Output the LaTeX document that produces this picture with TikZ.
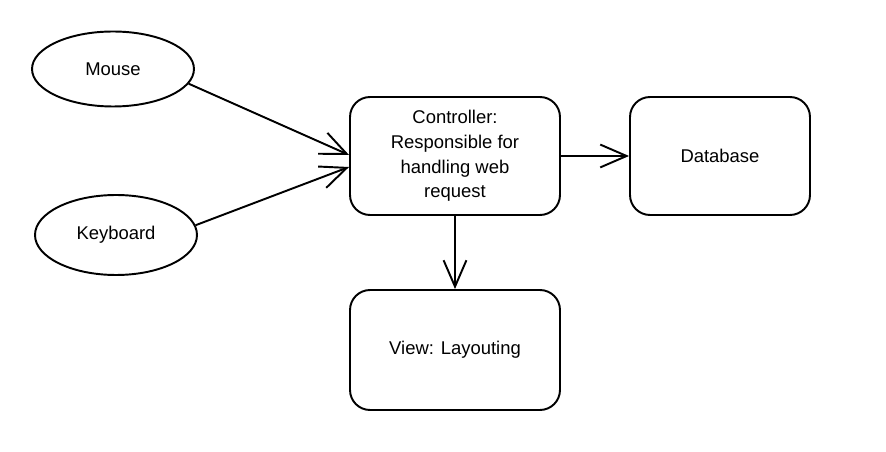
\documentclass[tikz,border=0pt]{standalone}
\usepackage{fontspec}
\setmainfont{Liberation Sans}
\usepackage{tikz}
\usetikzlibrary{arrows.meta, positioning, calc, shapes.geometric}
\tikzset{
  box/.style={rectangle, draw, rounded corners=0.4cm, line width=1.1pt,
              minimum width=4.2cm, minimum height=2.36cm,
              align=center, font=\fontsize{10.5}{14}\selectfont},
  input/.style={ellipse, draw, line width=1.1pt, inner sep=0pt,
                minimum width=3.24cm, minimum height=1.5cm,
                font=\fontsize{10.5}{14}\selectfont},
  arr/.style={-{Straight Barb[length=15pt, width=13pt, line width=1.1pt]}, line width=1.1pt},
}

\begin{document}
\begin{tikzpicture}[x=0.02cm, y=-0.02cm]
  \useasboundingbox (0,0) rectangle (886,452);

  \node[input] (mouse) at (113,69) {Mouse};
  \node[input, minimum height=1.6cm] (keyboard) at (116,235) {Keyboard};

  \node[box] (ctrl) at (455,156) {Controller:\\Responsible for\\handling web\\request};
  \node[box, minimum width=3.6cm] (db) at (720,156) {Database};
  \node[box, minimum height=2.4cm] (view) at (455,350) {View: Layouting};

  \draw[arr] (mouse.-11) -- ($(ctrl.west)+(0,-1)$);
  \draw[arr] (keyboard.7) -- ($(ctrl.west)+(0,11)$);
  \draw[arr] (ctrl) -- (db);
  \draw[arr] (ctrl) -- (view);

\end{tikzpicture}
\end{document}
